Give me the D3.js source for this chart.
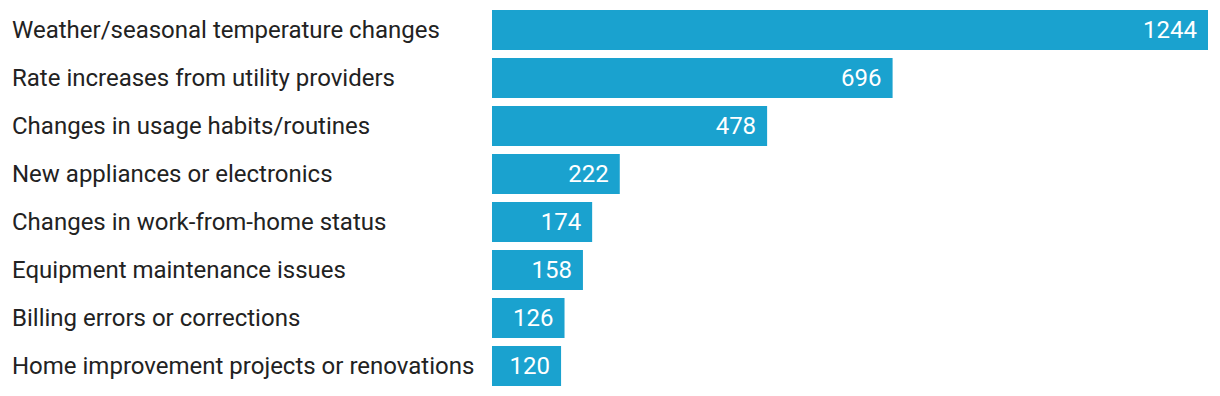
<!DOCTYPE html>
<html><head><meta charset="utf-8">
<script src="https://cdn.jsdelivr.net/npm/d3@7"></script>
<style>html,body{margin:0;padding:0;background:#fff;}svg{display:block;}</style>
</head><body>
<svg id="c" width="1220" height="396"></svg>
<script>
const categories = [
  "Weather/seasonal temperature changes",
  "Rate increases from utility providers",
  "Changes in usage habits/routines",
  "New appliances or electronics",
  "Changes in work-from-home status",
  "Equipment maintenance issues",
  "Billing errors or corrections",
  "Home improvement projects or renovations"
];
const values = [1244, 696, 478, 222, 174, 158, 126, 120];

const svg = d3.select("#c");
const x = d3.scaleLinear().domain([0, 1244]).range([492, 1208]);
const y = d3.scaleBand().domain(categories).range([6, 390]).paddingInner(1/6).paddingOuter(1/12);
const data = categories.map((c, i) => ({c, v: values[i]}));

svg.selectAll("rect.bar").data(data).join("rect")
  .attr("class", "bar")
  .attr("x", x(0))
  .attr("y", d => y(d.c))
  .attr("width", d => x(d.v) - x(0))
  .attr("height", y.bandwidth())
  .attr("fill", "#1aa2cf");

svg.selectAll("text.lab").data(data).join("text")
  .attr("class", "lab")
  .attr("x", 12)
  .attr("y", d => y(d.c) + y.bandwidth() / 2)
  .attr("dy", "0.35em")
  .attr("font-family", "Roboto")
  .attr("font-size", 24)
  .attr("fill", "#222")
  .text(d => d.c);

svg.selectAll("text.val").data(data).join("text")
  .attr("class", "val")
  .attr("x", d => x(d.v) - 11)
  .attr("y", d => y(d.c) + y.bandwidth() / 2)
  .attr("dy", "0.35em")
  .attr("text-anchor", "end")
  .attr("font-family", "Roboto")
  .attr("font-size", 24)
  .attr("fill", "#fff")
  .text(d => d.v);
</script>
</body></html>
